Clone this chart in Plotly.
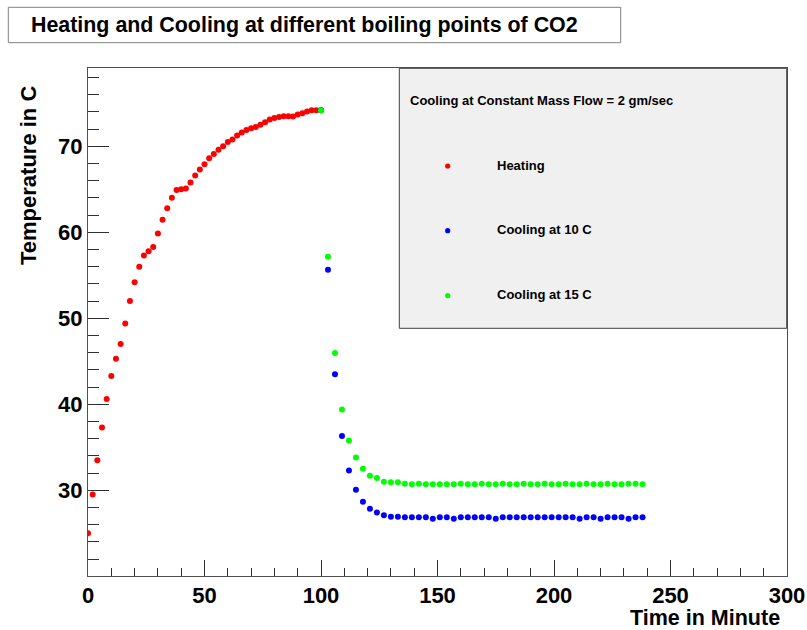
import plotly.graph_objects as go

# ---------------- data ----------------
heat_x = list(range(0, 102, 2))
heat_y = [25.0, 29.5, 33.5, 37.3, 40.6, 43.3, 45.3, 47.0, 49.4, 52.0,
          54.2, 56.0, 57.3, 57.8, 58.3, 59.85, 61.45, 62.8, 64.0, 64.9,
          65.0, 65.1, 65.8, 66.6, 67.3, 67.9, 68.6, 69.1, 69.6, 70.0,
          70.5, 70.8, 71.25, 71.6, 71.9, 72.1, 72.25, 72.5, 72.8, 73.1,
          73.3, 73.4, 73.5, 73.5, 73.45, 73.7, 73.85, 74.05, 74.2, 74.2,
          74.2]

cool_x = list(range(100, 241, 3))
cool10_y = [74.2, 55.65, 43.5, 36.3, 32.3, 30.05, 28.65, 27.86, 27.4, 27.1,
            26.93, 26.93, 26.85, 26.85, 26.85, 26.85, 26.7, 26.85, 26.85, 26.7,
            26.85, 26.85, 26.85, 26.85, 26.85, 26.7, 26.85, 26.85, 26.85, 26.85,
            26.85, 26.85, 26.85, 26.85, 26.85, 26.85, 26.85, 26.7, 26.85, 26.85,
            26.7, 26.85, 26.85, 26.85, 26.7, 26.85, 26.85]
cool15_y = [74.2, 57.16, 45.95, 39.4, 35.8, 33.8, 32.5, 31.7, 31.43, 31.0,
            30.93, 30.93, 30.77, 30.7, 30.77, 30.7, 30.7, 30.7, 30.7, 30.7,
            30.77, 30.7, 30.7, 30.77, 30.7, 30.7, 30.77, 30.7, 30.7, 30.77,
            30.7, 30.7, 30.77, 30.7, 30.7, 30.77, 30.7, 30.7, 30.77, 30.7,
            30.7, 30.77, 30.7, 30.7, 30.77, 30.77, 30.7]

series_names = ["Heating", "Cooling at 10 C", "Cooling at 15 C"]
series_colors = ["#ff0000", "#0000ff", "#00ff00"]

title_text = "Heating and Cooling at different boiling points of CO2"
legend_header = "Cooling at Constant Mass Flow = 2 gm/sec"
x_title = "Time in Minute"
y_title = "Temperature in C"

x_range = [0, 300]
y_range = [20.03, 79.1]

# ---------------- layout geometry (pixels) ----------------
W, H = 807, 630
L, R, T, B = 88, 787, 68, 576
PW, PH = R - L, B - T


def px(xp):
    return (xp - L) / PW


def py(yp):
    return (B - yp) / PH


FONT = "Liberation Sans, Arial, Helvetica, sans-serif"

fig = go.Figure()
for xs, ys, name, col in [(heat_x, heat_y, series_names[0], series_colors[0]),
                          (cool_x, cool10_y, series_names[1], series_colors[1]),
                          (cool_x, cool15_y, series_names[2], series_colors[2])]:
    fig.add_trace(go.Scatter(x=xs, y=ys, mode="markers", name=name,
                             marker=dict(color=col, size=6, line=dict(width=0)),
                             showlegend=False))

shapes = []
annotations = []

# title box
shapes.append(dict(type="rect", xref="paper", yref="paper",
                   x0=px(8.3), x1=px(620.7), y0=py(42.7), y1=py(7.3),
                   line=dict(color="#808080", width=1), fillcolor="white", layer="above"))
annotations.append(dict(text="<b>%s</b>" % title_text, xref="paper", yref="paper",
                        x=px(29), y=py(25), xanchor="left", yanchor="middle",
                        showarrow=False, font=dict(family=FONT, size=21.4, color="black")))

# legend box
shapes.append(dict(type="rect", xref="paper", yref="paper",
                   x0=px(399.3), x1=px(786.7), y0=py(328.3), y1=py(68.3),
                   line=dict(color="#404040", width=1), fillcolor="#f0f0f0", layer="above"))
annotations.append(dict(text="<b>%s</b>" % legend_header, xref="paper", yref="paper",
                        x=px(408), y=py(100.5), xanchor="left", yanchor="middle",
                        showarrow=False, font=dict(family=FONT, size=13, color="black")))
entry_y = [166, 230.7, 295.7]
for name, col, ey in zip(series_names, series_colors, entry_y):
    shapes.append(dict(type="circle", xref="paper", yref="paper",
                       xsizemode="pixel", ysizemode="pixel",
                       xanchor=px(447.7), yanchor=py(ey),
                       x0=-2.6, x1=2.6, y0=-2.6, y1=2.6,
                       line=dict(width=0), fillcolor=col, layer="above"))
    annotations.append(dict(text="<b>%s</b>" % name, xref="paper", yref="paper",
                            x=px(494.5), y=py(ey - 1), xanchor="left", yanchor="middle",
                            showarrow=False, font=dict(family=FONT, size=13, color="black")))

# axis titles
annotations.append(dict(text="<b>%s</b>" % x_title, xref="paper", yref="paper",
                        x=px(781), y=py(617.5), xanchor="right", yanchor="middle",
                        borderpad=0,
                        showarrow=False, font=dict(family=FONT, size=21.5, color="black")))
annotations.append(dict(text="<b>%s</b>" % y_title, xref="paper", yref="paper",
                        x=px(29), y=py(176), xanchor="center", yanchor="middle",
                        textangle=-90,
                        showarrow=False, font=dict(family=FONT, size=22, color="black")))

axis_common = dict(showgrid=False, zeroline=False, showline=True, mirror=True,
                   linecolor="#505050", linewidth=1, ticks="inside",
                   tickcolor="#303030", tickwidth=1, automargin=False,
                   tickfont=dict(family=FONT, size=22, color="black", weight="bold"))

fig.update_layout(
    width=W, height=H, autosize=False,
    margin=dict(l=L, r=W - R, t=T, b=H - B, pad=0, autoexpand=False),
    paper_bgcolor="white", plot_bgcolor="white",
    showlegend=False,
    xaxis=dict(range=x_range, tick0=0, dtick=50, ticklen=16,
               minor=dict(dtick=10, tick0=0, ticklen=8, ticks="inside",
                          tickcolor="#303030", tickwidth=1, showgrid=False),
               **axis_common),
    yaxis=dict(range=y_range, tick0=0, dtick=10, ticklen=21,
               minor=dict(dtick=2, tick0=0, ticklen=11, ticks="inside",
                          tickcolor="#303030", tickwidth=1, showgrid=False),
               **axis_common),
    shapes=shapes,
    annotations=annotations,
)

fig.write_html("out.html")
